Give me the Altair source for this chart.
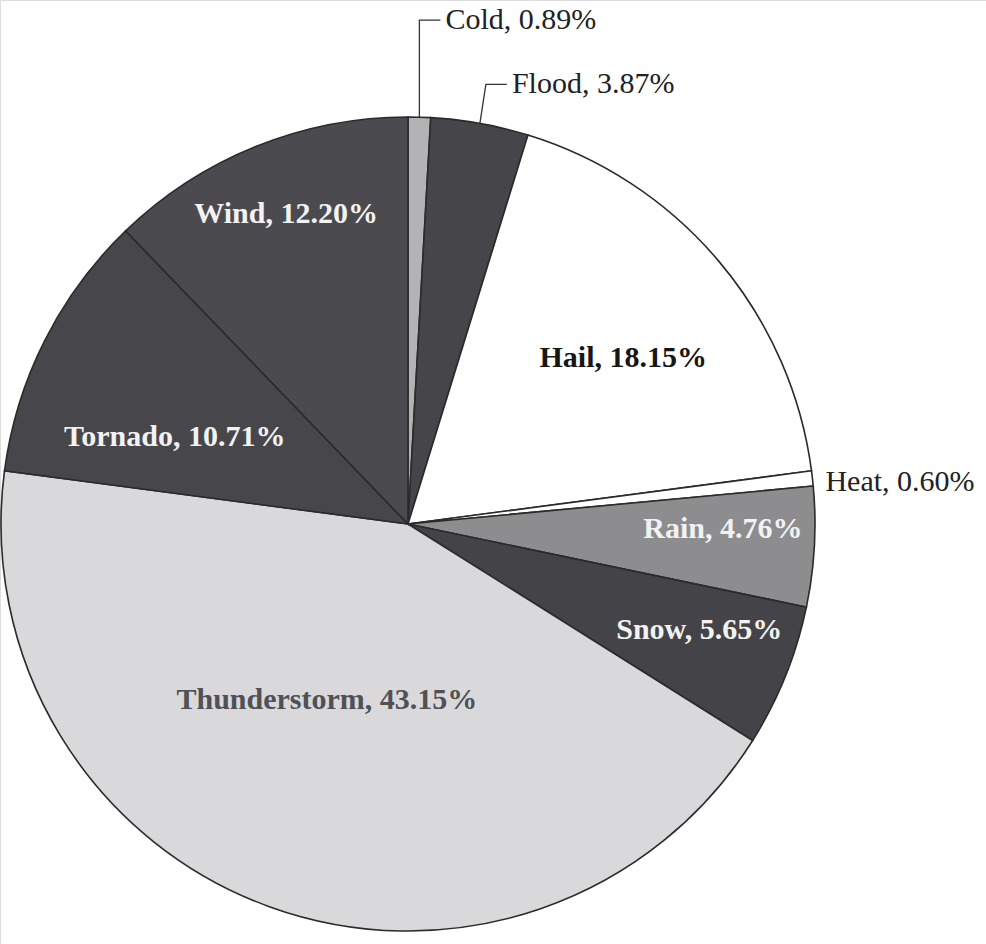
import math

import altair as alt
import pandas as pd

# Share of storm-related events by type (percent), clockwise from 12 o'clock
categories = ["Cold", "Flood", "Hail", "Heat", "Rain", "Snow",
              "Thunderstorm", "Tornado", "Wind"]
shares = [0.89, 3.87, 18.15, 0.60, 4.76, 5.65, 43.15, 10.71, 12.20]

# Slice fills (grayscale print style)
fills = ["#b3b3b5", "#46464a", "#ffffff", "#ffffff", "#8d8d8f",
         "#444448", "#d9d9db", "#47474b", "#4b4b4f"]

# Pie geometry
CX, CY, R = 408, 524, 407
W, H = 986, 944
FONT = "Liberation Serif"

# Inside labels: category -> (radius, angular nudge in degrees, text colour)
inside_layout = {
    "Hail": (272, 2.5, "#161616"),
    "Rain": (315, -2.3, "#f2f2f2"),
    "Snow": (310, -1.9, "#f2f2f2"),
    "Thunderstorm": (194, 4.9, "#505055"),
    "Tornado": (249, -6.3, "#f2f2f2"),
    "Wind": (333, 0.5, "#f2f2f2"),
}
# Outside labels: category -> (text offset from the slice's rim point, leader line?)
outside_layout = {
    "Cold": ((26, -97), True),
    "Flood": ((32, -39), True),
    "Heat": ((13, 4), False),
}

total = sum(shares)
mids = []
acc = 0.0
for s in shares:
    mids.append((acc + s / 2) / total * 360.0)
    acc += s


def polar(angle_deg, radius):
    a = math.radians(angle_deg)
    return CX + radius * math.sin(a), CY - radius * math.cos(a)


pie_df = pd.DataFrame({
    "idx": list(range(len(categories))),
    "category": categories,
    "share": shares,
    "fill": fills,
})

in_rows, out_rows, leader_rows = [], [], []
for cat, share, mid in zip(categories, shares, mids):
    text = f"{cat}, {share:.2f}%"
    if cat in inside_layout:
        r, nudge, col = inside_layout[cat]
        x, y = polar(mid + nudge, r)
        in_rows.append({"x": x, "y": y, "text": text, "col": col})
    else:
        (ox, oy), leader = outside_layout[cat]
        ax, ay = polar(mid, R)
        tx, ty = ax + ox, ay + oy
        out_rows.append({"x": tx, "y": ty, "text": text})
        if leader:
            # Cold rises straight up; Flood leans slightly right
            elbow_x = ax + 6 if cat == "Flood" else ax
            pts = [(ax, ay), (elbow_x, ty), (tx - 5, ty)]
            for k, (px, py) in enumerate(pts):
                leader_rows.append({"cat": cat, "k": k, "x": px, "y": py})

in_df = pd.DataFrame(in_rows)
out_df = pd.DataFrame(out_rows)
leader_df = pd.DataFrame(leader_rows)

pie = alt.Chart(pie_df).mark_arc(
    radius=R, stroke="#2b2b2b", strokeWidth=1.6
).encode(
    theta=alt.Theta("share:Q", stack=True),
    order=alt.Order("idx:Q"),
    color=alt.Color("fill:N", scale=None),
    x=alt.value(CX),
    y=alt.value(CY),
)

inside_text = alt.Chart(in_df).mark_text(
    font=FONT, fontSize=30, fontWeight="bold", align="center", baseline="middle"
).encode(
    x=alt.X("x:Q", scale=None),
    y=alt.Y("y:Q", scale=None),
    text="text:N",
    color=alt.Color("col:N", scale=None),
)

outside_text = alt.Chart(out_df).mark_text(
    font=FONT, fontSize=30, align="left", baseline="middle", color="#222222"
).encode(
    x=alt.X("x:Q", scale=None),
    y=alt.Y("y:Q", scale=None),
    text="text:N",
)

leaders = alt.Chart(leader_df).mark_line(
    color="#333333", strokeWidth=1.3
).encode(
    x=alt.X("x:Q", scale=None),
    y=alt.Y("y:Q", scale=None),
    detail="cat:N",
    order="k:Q",
)

chart = alt.layer(pie, leaders, inside_text, outside_text).properties(
    width=W, height=H, autosize=alt.AutoSizeParams(type="none"), padding=0
).configure_view(stroke=None).configure(background="white")

chart.save("out.html", embed_options={"renderer": "svg", "actions": False})
